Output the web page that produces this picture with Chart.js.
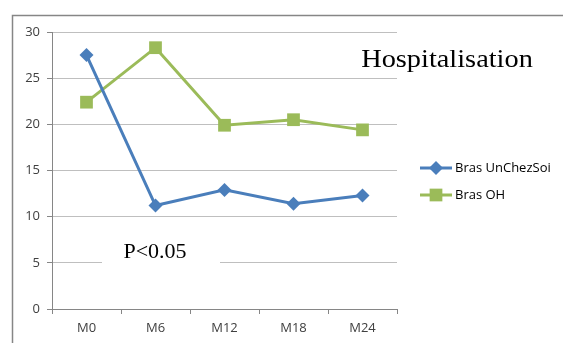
<!DOCTYPE html>
<html>
<head>
<meta charset="utf-8">
<script src="https://cdn.jsdelivr.net/npm/chart.js@4/dist/chart.umd.min.js"></script>
<style>
  html, body { margin: 0; padding: 0; background: #fff; }
  #wrap { position: relative; width: 563px; height: 343px; }
</style>
</head>
<body>
<div id="wrap"><canvas id="c" width="563" height="343"></canvas></div>
<script>
// Time points of follow-up
const categories = ['M0', 'M6', 'M12', 'M18', 'M24'];
// Hospitalisation per arm
const brasUnChezSoi = [27.5, 11.2, 12.9, 11.4, 12.3];
const brasOH = [22.4, 28.3, 19.9, 20.5, 19.4];
// Y axis ticks
const yTicks = [0, 5, 10, 15, 20, 25, 30];

const chartTitle = 'Hospitalisation';
const noteText = 'P<0.05';

const BLUE = '#4a7ebb';
const GREEN = '#9bbb59';
const AXIS = '#868686';
const GRID = '#bfbfbf';
const LABEL = '#404040';

// Frame, title, legend and significance note drawn on top of the chart
const decorations = {
  id: 'decorations',
  beforeDraw(chart) {
    const ctx = chart.ctx;
    ctx.save();
    ctx.fillStyle = '#fff';
    ctx.fillRect(0, 0, chart.width, chart.height);
    ctx.restore();
  },
  afterDatasetsDraw(chart) {
    const ctx = chart.ctx;
    ctx.save();
    // outer frame (top and left edges)
    ctx.strokeStyle = AXIS;
    ctx.lineWidth = 1.5;
    ctx.beginPath();
    ctx.moveTo(12.5, chart.height);
    ctx.lineTo(12.5, 15.5);
    ctx.lineTo(chart.width, 15.5);
    ctx.stroke();
    ctx.restore();

    // title, slightly widened serif
    ctx.save();
    ctx.fillStyle = '#000';
    ctx.font = '26px "Liberation Serif", serif';
    ctx.textAlign = 'center';
    ctx.textBaseline = 'alphabetic';
    ctx.translate(447, 67);
    ctx.scale(1.09, 1);
    ctx.fillText(chartTitle, 0, 0);
    ctx.restore();

    // note with white backing box
    ctx.save();
    ctx.fillStyle = '#fff';
    ctx.fillRect(102, 231, 118, 40);
    ctx.fillStyle = '#000';
    ctx.font = '22px "Liberation Serif", serif';
    ctx.textAlign = 'center';
    ctx.textBaseline = 'alphabetic';
    ctx.fillText(noteText, 155, 257.5);
    ctx.restore();

    // legend
    chart.data.datasets.forEach((ds, i) => {
      const ly = 168 + i * 27;
      ctx.save();
      ctx.strokeStyle = ds.borderColor;
      ctx.lineWidth = 3;
      ctx.beginPath();
      ctx.moveTo(420, ly);
      ctx.lineTo(452, ly);
      ctx.stroke();
      ctx.fillStyle = ds.backgroundColor;
      ctx.strokeStyle = ds.borderColor;
      Chart.helpers.drawPoint(ctx, {
        pointStyle: ds.pointStyle,
        radius: ds.pointRadius,
        borderWidth: 0
      }, 436, ly);
      ctx.fillStyle = '#000';
      ctx.font = '13px "Open Sans", sans-serif';
      ctx.textAlign = 'left';
      ctx.textBaseline = 'middle';
      ctx.fillText(ds.label, 455, ly);
      ctx.restore();
    });
  }
};

new Chart(document.getElementById('c'), {
  type: 'line',
  data: {
    labels: categories,
    datasets: [
      {
        label: 'Bras UnChezSoi',
        data: brasUnChezSoi,
        borderColor: BLUE,
        backgroundColor: BLUE,
        borderWidth: 3,
        pointStyle: 'rectRot',
        pointRadius: 7,
        pointHoverRadius: 7,
        pointBorderWidth: 0,
        tension: 0
      },
      {
        label: 'Bras OH',
        data: brasOH,
        borderColor: GREEN,
        backgroundColor: GREEN,
        borderWidth: 3,
        pointStyle: 'rect',
        pointRadius: 9,
        pointHoverRadius: 9,
        pointBorderWidth: 0,
        tension: 0
      }
    ]
  },
  options: {
    responsive: false,
    animation: false,
    events: [],
    layout: { padding: { left: 0, right: 166, top: 32, bottom: 0 } },
    plugins: {
      legend: { display: false },
      title: { display: false },
      tooltip: { enabled: false }
    },
    scales: {
      x: {
        offset: true,
        grid: {
          offset: true,
          drawOnChartArea: false,
          drawTicks: true,
          tickLength: 5,
          color: AXIS
        },
        border: { color: AXIS, width: 1 },
        ticks: {
          color: LABEL,
          font: { family: '"Open Sans", sans-serif', size: 13 },
          padding: 6
        },
        afterFit(scale) { scale.height = 34; }
      },
      y: {
        min: 0,
        max: 30,
        afterBuildTicks(scale) { scale.ticks = yTicks.map(v => ({ value: v })); },
        grid: {
          color: GRID,
          tickLength: 5,
          tickColor: AXIS
        },
        border: { color: AXIS, width: 1 },
        ticks: {
          color: LABEL,
          font: { family: '"Open Sans", sans-serif', size: 13 },
          padding: 7
        },
        afterFit(scale) { scale.width = 52; }
      }
    }
  },
  plugins: [decorations]
});
</script>
</body>
</html>
